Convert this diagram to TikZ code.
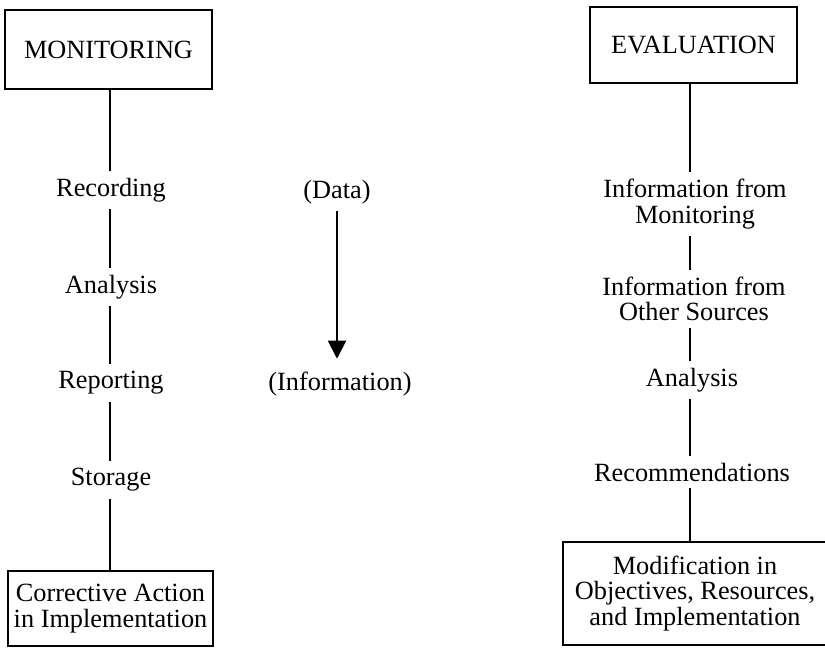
\documentclass[tikz,border=0pt]{standalone}
\usepackage{fontspec}
\setmainfont{Liberation Serif}
\usetikzlibrary{arrows.meta}
\begin{document}
\begin{tikzpicture}[x=1pt,y=-1pt,
  txt/.style={font=\fontsize{26.3}{25.5}\selectfont, align=center},
  label/.style={txt, inner sep=7pt},
  framebox/.style={txt, draw, line width=2.6pt, inner sep=0pt},
  link/.style={line width=1.9pt},
  flow/.style={line width=1.9pt, -{Triangle[width=18pt,length=18pt]}, shorten >=6pt}]
\useasboundingbox (0,0) rectangle (825,648);

% column guides
\coordinate (lcol) at (110,0);
\coordinate (rcol) at (690,0);

% monitoring column
\node[framebox, minimum width=207pt, minimum height=79pt] (mon) at (108.5,49.5) {MONITORING};
\node[label] (rec) at (111,190) {Recording};
\node[label] (ana) at (111,287) {Analysis};
\node[label] (rep) at (111,383) {Reporting};
\node[label] (sto) at (111,480) {Storage};
\node[framebox, minimum width=205pt, minimum height=75pt] (cor) at (110.5,608.5) {Corrective Action\\in Implementation};

\draw[link] (mon.south -| lcol) -- (rec.north -| lcol);
\draw[link] (rec.south -| lcol) -- (ana.north -| lcol);
\draw[link] (ana.south -| lcol) -- (rep.north -| lcol);
\draw[link] (rep.south -| lcol) -- (sto.north -| lcol);
\draw[link] (sto.south -| lcol) -- (cor.north -| lcol);

% data to information
\node[label] (data) at (337,192) {(Data)};
\node[label] (info) at (340,384) {(Information)};
\draw[flow] (data) -- (data |- info.north);

% evaluation column
\node[framebox, minimum width=207pt, minimum height=76pt] (eval) at (693.5,45) {EVALUATION};
\node[label] (im) at (695,204) {Information from\\Monitoring};
\node[label] (ios) at (694,299) {Information from\\Other Sources};
\node[label] (ana2) at (692,380) {Analysis};
\node[label] (recm) at (692,472) {Recommendations};
\node[framebox, minimum width=264pt, minimum height=103pt] (mod) at (695,593.5) {Modification in\\Objectives, Resources,\\and Implementation};

\draw[link] (eval.south -| rcol) -- (im.north -| rcol);
\draw[link] (im.south -| rcol) -- (ios.north -| rcol);
\draw[link] (ios.south -| rcol) -- (ana2.north -| rcol);
\draw[link] (ana2.south -| rcol) -- (recm.north -| rcol);
\draw[link] (recm.south -| rcol) -- (mod.north -| rcol);
\end{tikzpicture}
\end{document}
